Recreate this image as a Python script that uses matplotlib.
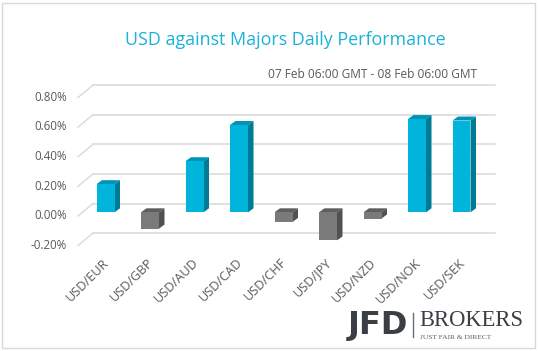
import matplotlib
matplotlib.use("Agg")
import matplotlib.pyplot as plt
from matplotlib.patches import Polygon, Rectangle
import matplotlib.transforms as mtransforms

categories = ["USD/EUR", "USD/GBP", "USD/AUD", "USD/CAD", "USD/CHF",
              "USD/JPY", "USD/NZD", "USD/NOK", "USD/SEK"]
values = [0.19, -0.11, 0.345, 0.59, -0.065, -0.19, -0.042, 0.63, 0.62]  # percent
yticks = [-0.2, 0.0, 0.2, 0.4, 0.6, 0.8]
ytick_labels = ["-0.20%", "0.00%", "0.20%", "0.40%", "0.60%", "0.80%"]
title = "USD against Majors Daily Performance"
subtitle = "07 Feb 06:00 GMT - 08 Feb 06:00 GMT"

W, H = 538, 351
fig = plt.figure(figsize=(W / 100, H / 100), dpi=100)
ax = fig.add_axes([0, 0, 1, 1])
ax.set_axis_off()
# front plane of bars: category i center at px 105.5 + 44.5*i; 0% at px 212.3, 148 px per 1%
ax.set_xlim(-105.5 / 44.5, (W - 105.5) / 44.5)
ax.set_ylim((212.3 - H) / 148.0, 212.3 / 148.0)

FONT = ["Open Sans", "DejaVu Sans"]
txtgray = "#595959"
gridc = "#D9D9D9"

def px_off(dx, dy):
    # dx right, dy down in pixels
    return mtransforms.offset_copy(ax.transData, fig=fig, x=dx, y=-dy, units="dots")

# gridlines: back wall and diagonal floor edge
back = px_off(10.6, -8.8)
x_left = (93 - 10.6 - 105.5) / 44.5
x_right = (495 - 10.6 - 105.5) / 44.5
inv = ax.transData.inverted()
for t, lab in zip(yticks, ytick_labels):
    ax.plot([x_left, x_right], [t, t], color=gridc, lw=1.1, transform=back, zorder=1)
    x_front_data = (78 - 105.5) / 44.5
    p0 = ax.transData.transform((x_front_data, t)) + [0, -3.7]
    p1 = ax.transData.transform((x_front_data, t)) + [15, 8.8]
    q0 = inv.transform(p0); q1 = inv.transform(p1)
    ax.plot([q0[0], q1[0]], [q0[1], q1[1]], color=gridc, lw=1.0, zorder=1)
    ax.text((67 - 105.5) / 44.5, t, lab, transform=px_off(0, 3.5), ha="right",
            va="center", fontsize=8.3, color=txtgray, family=FONT)

# bars
bw = 18 / 44.5
ddx, ddy = 5.5 / 44.5, 4.0 / 148.0
xs = list(range(len(categories)))
front_cols = ["#00B4DC" if v >= 0 else "#7A7A7A" for v in values]
top_cols = ["#0094B4" if v >= 0 else "#5E5E5E" for v in values]
side_cols = ["#007B96" if v >= 0 else "#515151" for v in values]
bars = ax.bar(xs, values, width=bw, color=front_cols, zorder=3, linewidth=0)
for x, v, tc, sc in zip(xs, values, top_cols, side_cols):
    xl, xr = x - bw / 2, x + bw / 2
    ytop = max(v, 0)
    ybot = min(v, 0)
    top = Polygon([(xl, ytop), (xr, ytop), (xr + ddx, ytop + ddy), (xl + ddx, ytop + ddy)],
                  closed=True, facecolor=tc, edgecolor="none", zorder=2)
    side = Polygon([(xr, ybot), (xr + ddx, ybot + ddy), (xr + ddx, ytop + ddy), (xr, ytop)],
                   closed=True, facecolor=sc, edgecolor="none", zorder=2)
    ax.add_patch(top)
    ax.add_patch(side)

# x tick labels (rotated)
ybase = (212.3 - 256) / 148.0
for x, c in zip(xs, categories):
    ax.text(x - 3 / 44.5, ybase, c, rotation=45, ha="right", va="top", rotation_mode="anchor",
            fontsize=9.2, color=txtgray, family=FONT)

# title and subtitle
fig.text(285 / W, 1 - 40 / H, title, ha="center", va="center", fontsize=12.9,
         color="#1AB2D8", family=FONT)
fig.text(477 / W, 1 - 74 / H, subtitle, ha="right", va="center", fontsize=8.6,
         color=txtgray, family=FONT)

# logo
fig.text(348 / W, 1 - 325.5 / H, "JFD", ha="left", va="center", fontsize=23,
         fontweight="bold", color="#3A3F46", family=["DejaVu Sans"])
fig.add_artist(plt.Line2D([412.5 / W, 412.5 / W], [1 - 313 / H, 1 - 337 / H],
                          color="#6A6E74", lw=1.0))
fig.text(419 / W, 1 - 321 / H, "BROKERS", ha="left", va="center", fontsize=16.3,
         color="#3A3F46", family=["Liberation Serif"])
fig.text(420 / W, 1 - 337.5 / H, "JUST FAIR & DIRECT", ha="left", va="center",
         fontsize=5.4, color="#5A5E64", family=["Liberation Serif"])

# outer border
fig.add_artist(Rectangle((2 / W, 3 / H), (533) / W, (345) / H, transform=fig.transFigure,
                         fill=False, edgecolor="#D9D9D9", lw=1.0))

fig.savefig("out.png", dpi=100)
